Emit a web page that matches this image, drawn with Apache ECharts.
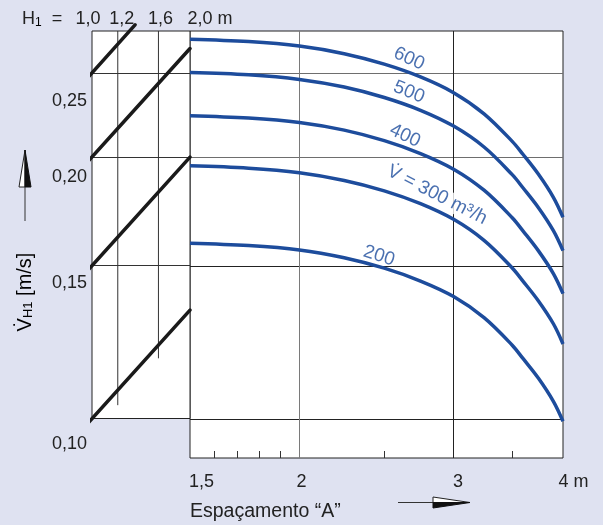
<!DOCTYPE html>
<html><head><meta charset="utf-8">
<script src="https://cdn.jsdelivr.net/npm/echarts@6/dist/echarts.min.js"></script>
<style>html,body{margin:0;padding:0;background:#dfe2f1;}#c{width:603px;height:525px;}</style>
</head><body><div id="c"></div>
<script>
// ---------- data ----------
const spacingA = [1.5, 1.75, 2.0, 2.25, 2.5, 2.75, 3.0, 3.25, 3.5, 3.6, 3.75, 3.9, 4.0];
const flowLabels = ['600', '500', '400', 'V\u0307 = 300 m\u00b3/h', '200'];
const velocity600 = [0.2734, 0.2717, 0.2685, 0.2631, 0.2559, 0.2474, 0.2373, 0.2244, 0.2086, 0.2016, 0.1912, 0.1799, 0.1706];
const velocity500 = [0.2503, 0.2488, 0.2458, 0.2409, 0.2343, 0.2265, 0.2172, 0.2055, 0.1910, 0.1845, 0.1750, 0.1647, 0.1562];
const velocity400 = [0.2233, 0.2219, 0.2193, 0.2149, 0.2090, 0.2020, 0.1938, 0.1833, 0.1704, 0.1646, 0.1561, 0.1470, 0.1394];
const velocity300 = [0.1955, 0.1943, 0.1920, 0.1881, 0.1830, 0.1769, 0.1697, 0.1605, 0.1492, 0.1441, 0.1367, 0.1287, 0.1220];
const velocity200 = [0.1593, 0.1583, 0.1565, 0.1533, 0.1491, 0.1441, 0.1383, 0.1308, 0.1216, 0.1174, 0.1114, 0.1048, 0.0994];
const curveLabelAnchors = [[2.668, 0.2596], [2.668, 0.2377], [2.640, 0.2117], [2.872, 0.1810], [2.466, 0.1540]];

const xTickValues = [1.5, 2, 3, 4];
const xTickLabels = ['1,5', '2', '3', '4 m'];
const xMinorTicks = [1.6, 1.7, 1.8, 1.9, 2.5, 3.5];
const xGridValues = [2, 3];
const yTickValues = [0.10, 0.15, 0.20, 0.25];
const yTickLabels = ['0,10', '0,15', '0,20', '0,25'];
const h1TickValues = [1.0, 1.2, 1.6, 2.0];
const h1TickLabels = ['1,0', '1,2', '1,6', '2,0 m'];
const h1GuideX = [1.2, 1.6];
const h1GuideBottom = [0.1036, 0.1173];
const h1CorrStart = [[0.965, 0.2464], [0.965, 0.1971], [0.965, 0.1478], [0.965, 0.0985]];
const h1CorrEnd = [[1.356, 0.2840], [2.0, 0.2667], [2.0, 0.2000], [2.0, 0.1333]];

// ---------- style ----------
const FONT = '"Liberation Sans", Arial, Helvetica, sans-serif';
const INK = '#222';
const BLUE = '#1d4c9c';
const Y_MIN_MAIN = 0.0902, Y_MIN_LEFT = 0.10, Y_MAX = 0.2794;

function richSet(pads, size) {
  const r = {};
  pads.forEach((p, i) => { r['t' + i] = { fontFamily: FONT, fontSize: size || 18, color: INK, padding: p }; });
  return r;
}
function fmt(values, labels) {
  return function (val) {
    const i = values.findIndex(t => Math.abs(t - val) < 1e-6);
    return i < 0 ? '' : '{t' + i + '|' + labels[i] + '}';
  };
}
const hidden = { axisLine: { show: false }, axisTick: { show: false }, axisLabel: { show: false }, splitLine: { show: false } };

const velocitySeries = [velocity600, velocity500, velocity400, velocity300, velocity200];
const labelRot = [-24, -22, -25, -27, -18];

const series = [];
// main grid lines
series.push({
  type: 'line', xAxisIndex: 0, yAxisIndex: 0, data: [], silent: true, z: 1,
  markLine: {
    silent: true, symbol: ['none', 'none'], z: 1, animation: false, label: { show: false },
    data: yTickValues.map((v, i) => ({ yAxis: v, lineStyle: { color: i >= 2 ? '#6e6e6e' : '#222', width: 1, type: 'solid' } }))
      .concat(xGridValues.map((v, i) => ({ xAxis: v, lineStyle: { color: i === 0 ? '#7a7a7a' : '#222', width: 1, type: 'solid' } })))
  }
});
// left grid lines
series.push({
  type: 'line', xAxisIndex: 1, yAxisIndex: 1, data: [], silent: true, z: 1,
  markLine: {
    silent: true, symbol: ['none', 'none'], z: 1, animation: false, label: { show: false },
    data: yTickValues.slice(1).map(v => ({ yAxis: v, lineStyle: { color: '#333', width: 1, type: 'solid' } }))
  }
});
h1GuideX.forEach((h, i) => {
  series.push({
    type: 'line', xAxisIndex: 1, yAxisIndex: 1, silent: true, z: 1, symbol: 'none',
    lineStyle: { color: '#333', width: 1 },
    data: [[h, Y_MAX], [h, h1GuideBottom[i]]]
  });
});
h1CorrStart.forEach((s, i) => {
  series.push({
    type: 'line', xAxisIndex: 1, yAxisIndex: 1, silent: true, z: 4, symbol: 'none', clip: false,
    lineStyle: { color: '#1a1a1a', width: 3.5, cap: 'round' },
    data: [s, h1CorrEnd[i]]
  });
});
velocitySeries.forEach((vals, k) => {
  series.push({
    type: 'line', xAxisIndex: 0, yAxisIndex: 0, z: 4, symbol: 'none', smooth: 0.35,
    name: flowLabels[k],
    lineStyle: { color: BLUE, width: 3.5 },
    data: spacingA.map((a, j) => [a, vals[j]])
  });
});
series.push({
  type: 'scatter', xAxisIndex: 0, yAxisIndex: 0, z: 3, symbolSize: 0, silent: true,
  label: { show: true, position: 'inside', formatter: '{b}', color: BLUE, fontSize: 19, fontFamily: FONT },
  data: flowLabels.map((t, i) => ({
    name: t, value: curveLabelAnchors[i],
    label: Object.assign({ rotate: labelRot[i] }, i === 3 ? { backgroundColor: '#fff', padding: [0, 1] } : {})
  }))
});

const option = {
  animation: false,
  backgroundColor: '#dfe2f1',
  grid: [
    { left: 190, top: 31, width: 373, height: 427, show: true, backgroundColor: '#fff', borderColor: '#222', borderWidth: 1 },
    { left: 92, top: 31, width: 98, height: 387.5, show: true, backgroundColor: '#fff', borderColor: '#222', borderWidth: 1 }
  ],
  xAxis: [
    {
      gridIndex: 0, type: 'log', logBase: 10, min: 1.5, max: 4,
      axisLine: { show: false }, splitLine: { show: false },
      axisTick: { show: true, inside: true, length: 7, customValues: xMinorTicks, lineStyle: { color: '#333', width: 1 } },
      axisLabel: { show: true, customValues: xTickValues, margin: 15, formatter: fmt(xTickValues, xTickLabels),
        rich: richSet([[0, 0, 0, 23], [0, 0, 0, 4], [0, 0, 0, 9], [0, 0, 0, 21]]) }
    },
    {
      gridIndex: 1, type: 'log', logBase: 10, min: 1, max: 2, position: 'top',
      axisLine: { show: false }, splitLine: { show: false }, axisTick: { show: false },
      axisLabel: { show: true, customValues: h1TickValues, margin: 3, formatter: fmt(h1TickValues, h1TickLabels),
        rich: richSet([[0, 8, 0, 0], [0, 0, 0, 8], [0, 0, 0, 4], [0, 0, 0, 40]]) }
    }
  ],
  yAxis: [
    Object.assign({ gridIndex: 0, type: 'log', logBase: 10, min: Y_MIN_MAIN, max: Y_MAX }, hidden),
    {
      gridIndex: 1, type: 'log', logBase: 10, min: Y_MIN_LEFT, max: Y_MAX,
      axisLine: { show: false }, splitLine: { show: false }, axisTick: { show: false },
      axisLabel: { show: true, customValues: yTickValues, margin: 5, formatter: fmt(yTickValues, yTickLabels),
        rich: richSet([[52, 0, 0, 0], [35, 0, 0, 0], [39, 0, 0, 0], [56, 0, 0, 0]]) }
    }
  ],
  series: series,
  graphic: [
    { type: 'text', x: 22, y: 19, style: { text: '{h|H}{s|1}{h|  =}', verticalAlign: 'middle', align: 'left',
        rich: { h: { fontFamily: FONT, fontSize: 18, fill: INK, color: INK }, s: { fontFamily: FONT, fontSize: 12, color: INK, padding: [8, 0, 0, 0] } } } },
    { type: 'text', x: 25, y: 292, rotation: Math.PI / 2, style: { text: '{v|V\u0307}{s|H1}{m| [m/s]}', align: 'center', verticalAlign: 'middle',
        rich: { v: { fontFamily: FONT, fontSize: 20, color: INK }, s: { fontFamily: FONT, fontSize: 13, color: INK, padding: [6, 0, 0, 0] }, m: { fontFamily: FONT, fontSize: 20, color: INK } } } },
    { type: 'line', shape: { x1: 25, y1: 186, x2: 25, y2: 221 }, style: { stroke: '#333', lineWidth: 1 } },
    { type: 'polygon', shape: { points: [[25, 150], [19, 187], [25, 187]] }, style: { fill: '#fff', stroke: '#222', lineWidth: 1 } },
    { type: 'polygon', shape: { points: [[25, 150], [31, 187], [25, 187]] }, style: { fill: '#111', stroke: '#111', lineWidth: 1 } },
    { type: 'line', shape: { x1: 398, y1: 502.5, x2: 434, y2: 502.5 }, style: { stroke: '#333', lineWidth: 1 } },
    { type: 'polygon', shape: { points: [[470, 502.5], [433, 497], [433, 502.5]] }, style: { fill: '#fff', stroke: '#222', lineWidth: 1 } },
    { type: 'polygon', shape: { points: [[470, 502.5], [433, 508], [433, 502.5]] }, style: { fill: '#111', stroke: '#111', lineWidth: 1 } },
    { type: 'text', x: 190, y: 512, style: { text: 'Espaçamento \u201cA\u201d', font: '19.5px ' + FONT, fill: INK, verticalAlign: 'middle', align: 'left' } }
  ]
};
const chart = echarts.init(document.getElementById('c'), null, { renderer: 'canvas' });
chart.setOption(option);
</script>
</body></html>
